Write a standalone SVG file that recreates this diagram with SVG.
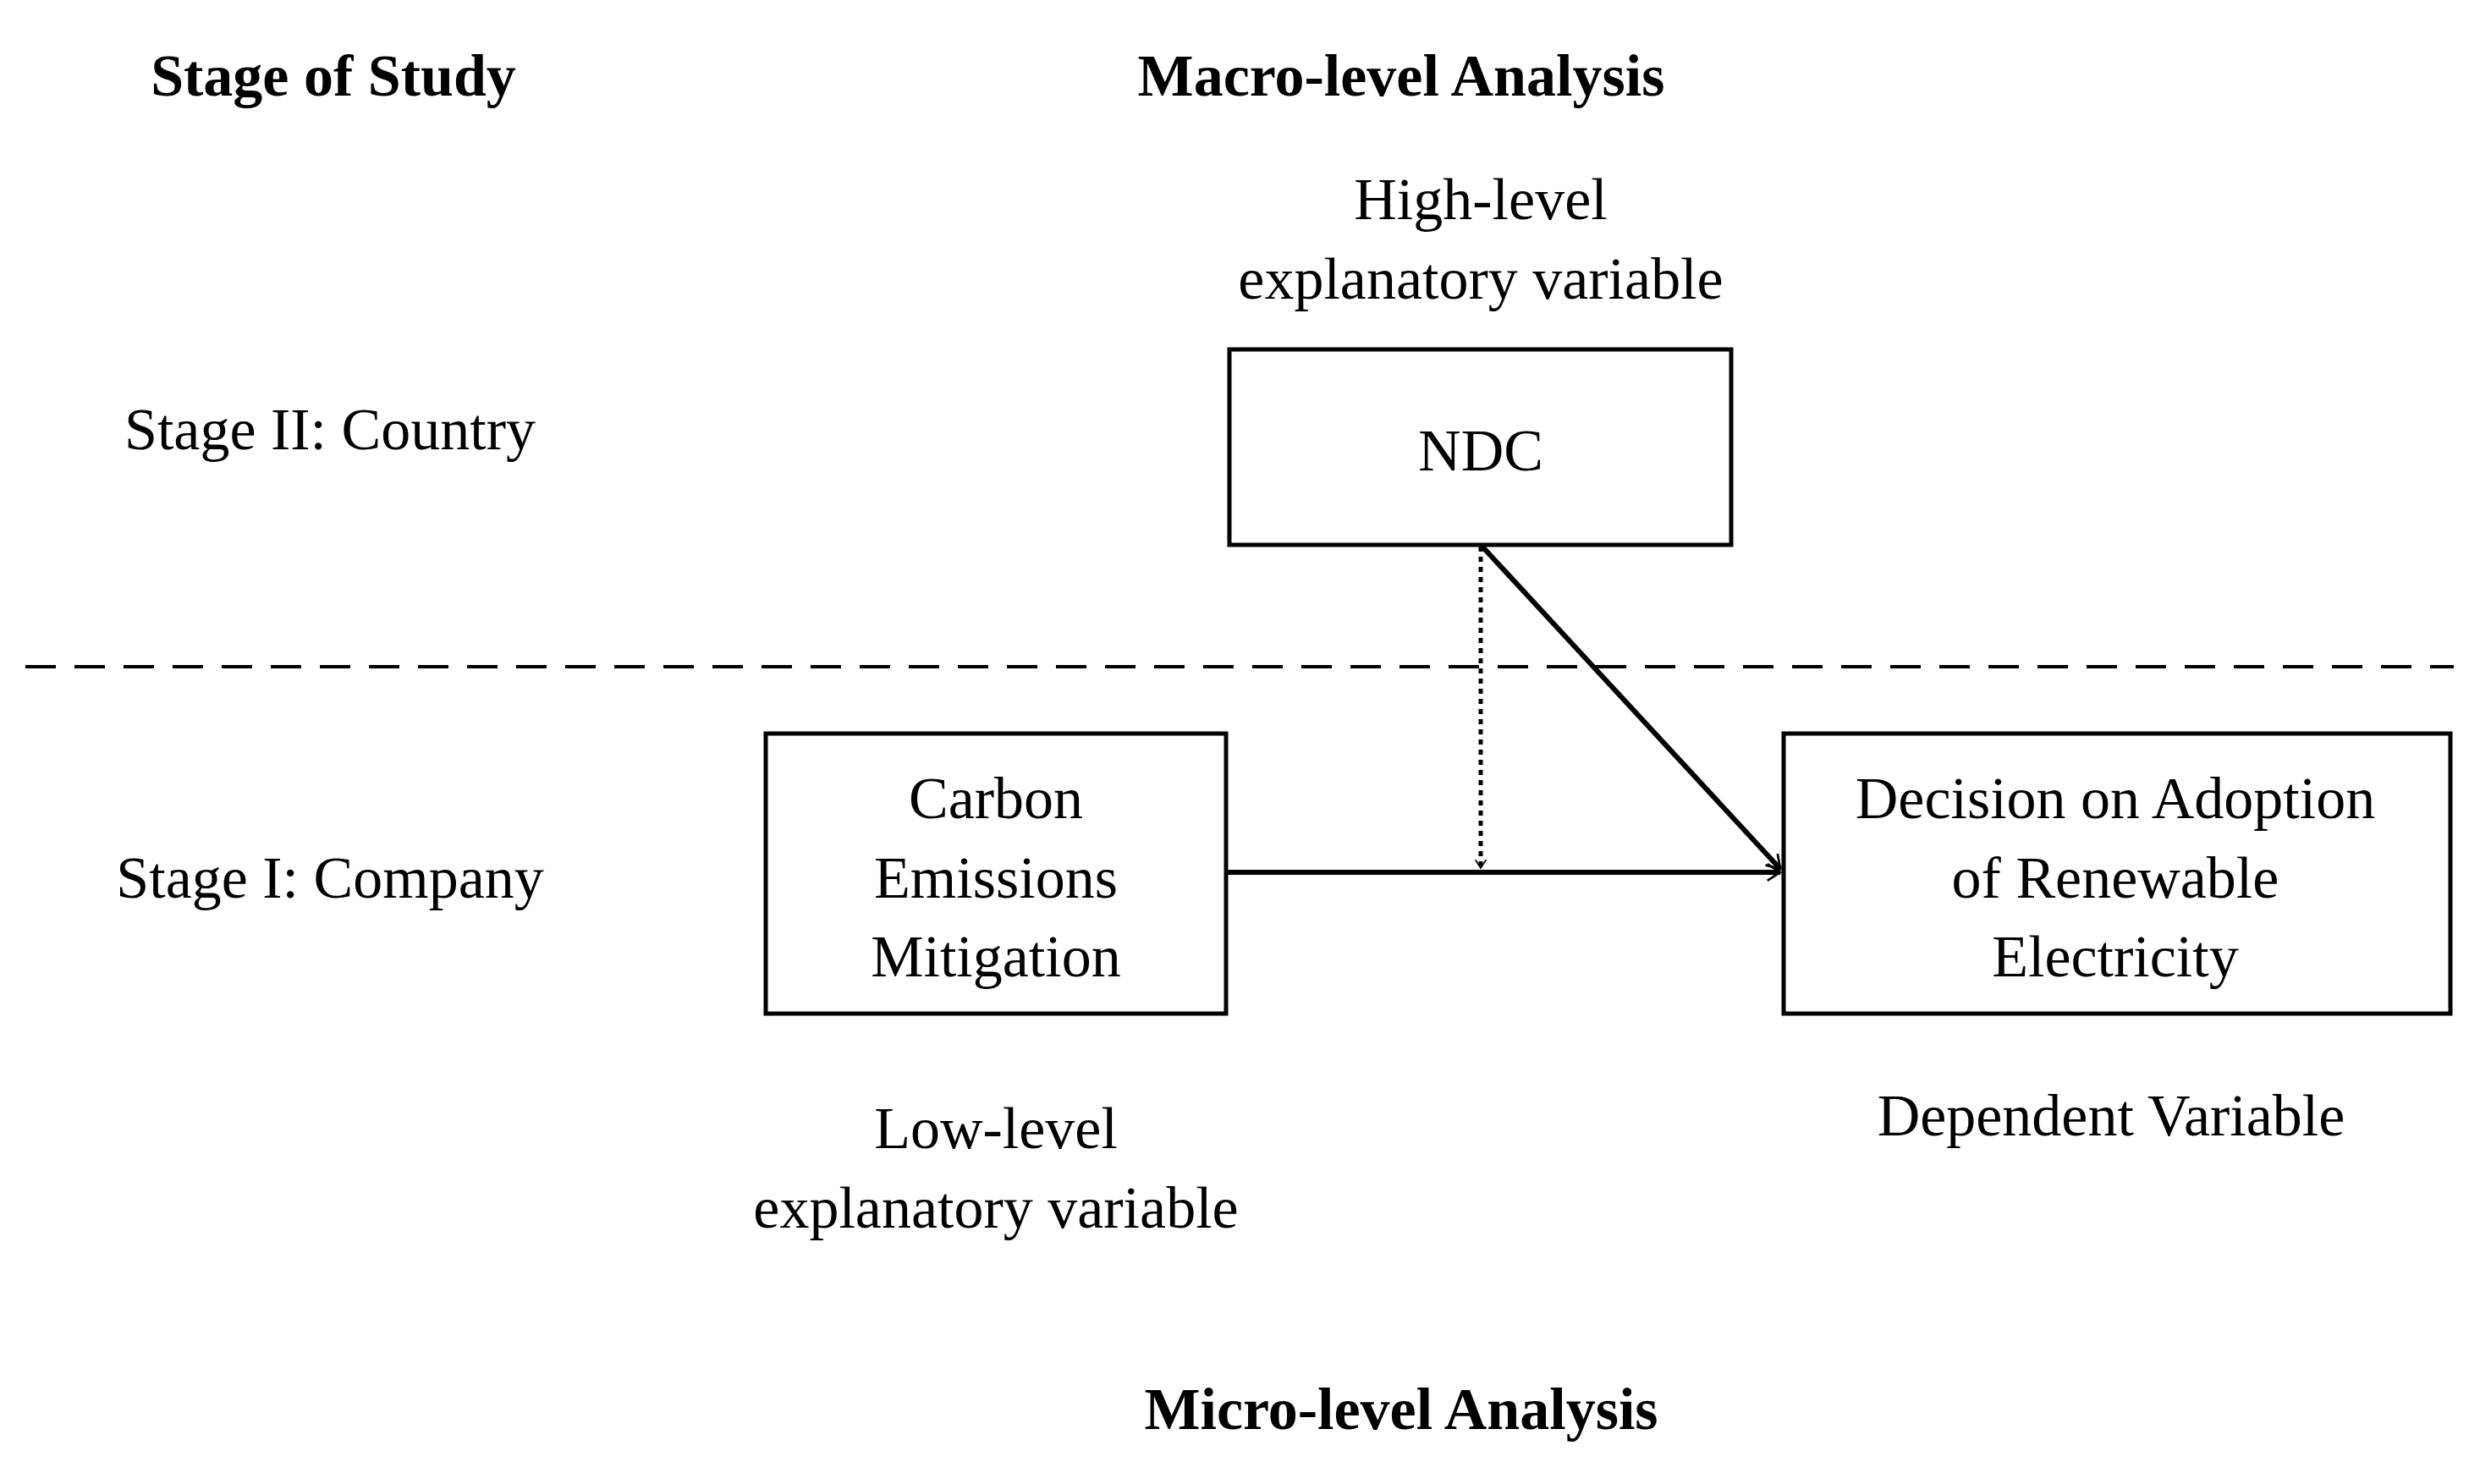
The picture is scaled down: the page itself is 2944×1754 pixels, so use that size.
<svg xmlns="http://www.w3.org/2000/svg" width="2944" height="1754" viewBox="0 0 2944 1754">
<style>
text{font-family:"Liberation Serif","Times New Roman",serif;font-size:70px;fill:#000;text-anchor:middle}
.b{font-weight:bold}
.box{fill:#fff;stroke:#000;stroke-width:5}
.ln{stroke:#000;stroke-width:6;fill:none}
</style>
<defs>
<marker id="ah" viewBox="0 0 20 20" refX="18" refY="10" markerWidth="9" markerHeight="9" markerUnits="userSpaceOnUse" orient="auto" overflow="visible">
<path d="M-16,-12 L18,10 L-16,32" fill="none" stroke="#000" stroke-width="6"/>
</marker>
<marker id="ah2" viewBox="0 0 20 20" refX="18" refY="10" markerWidth="7" markerHeight="7" markerUnits="userSpaceOnUse" orient="auto" overflow="visible">
<path d="M-10,-8 L18,10 L-10,28" fill="none" stroke="#000" stroke-width="5"/>
</marker>
</defs>
<rect width="2944" height="1754" fill="#fff"/>
<g id="labels">
<text class="b" x="394" y="113">Stage of Study</text>
<text class="b" x="1656" y="113">Macro-level Analysis</text>
<text x="1750" y="259">High-level</text>
<text x="1750" y="353">explanatory variable</text>
<text x="390" y="531">Stage II: Country</text>
<text x="390" y="1061">Stage I: Company</text>
<text x="1177" y="1357">Low-level</text>
<text x="1177" y="1451">explanatory variable</text>
<text x="2495" y="1342">Dependent Variable</text>
<text class="b" x="1656" y="1689">Micro-level Analysis</text>
</g>
<line x1="30" y1="788" x2="2900" y2="788" stroke="#000" stroke-width="4" stroke-dasharray="36,22"/>
<g id="connectors">
<line class="ln" x1="1449" y1="1031" x2="2104" y2="1031" marker-end="url(#ah)"/>
<line class="ln" x1="1750" y1="644" x2="2104" y2="1027" marker-end="url(#ah)"/>
<line x1="1750" y1="646" x2="1750" y2="1026" stroke="#000" stroke-width="5" stroke-dasharray="6,6" marker-end="url(#ah2)"/>
</g>
<g id="ndc">
<rect class="box" x="1453" y="413" width="593" height="231"/>
<text x="1750" y="556">NDC</text>
</g>
<g id="carbon">
<rect class="box" x="905" y="867" width="544" height="331"/>
<text x="1177" y="967">Carbon</text>
<text x="1177" y="1061">Emissions</text>
<text x="1177" y="1154">Mitigation</text>
</g>
<g id="decision">
<rect class="box" x="2108" y="867" width="788" height="331"/>
<text x="2500" y="967">Decision on Adoption</text>
<text x="2500" y="1061">of Renewable</text>
<text x="2500" y="1154">Electricity</text>
</g>
</svg>
